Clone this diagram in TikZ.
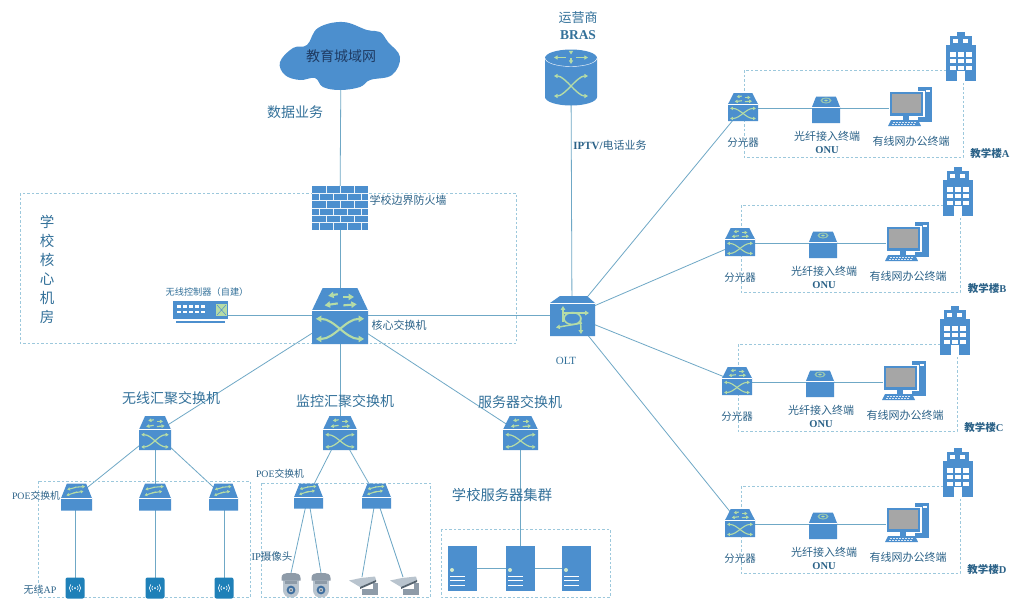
\documentclass[tikz,border=0pt]{standalone}
\usepackage{fontspec}
\setmainfont{Noto Sans CJK SC}
\newfontfamily\lat{Liberation Serif}
\usetikzlibrary{arrows.meta}
\pgfdeclarelayer{bg}
\pgfsetlayers{bg,main}
\definecolor{icb}{HTML}{4C8FCE}
\definecolor{gar}{HTML}{B6DCA6}
\definecolor{linc}{HTML}{6FA8C6}
\definecolor{zonec}{HTML}{9CC8DC}
\definecolor{labc}{HTML}{33719A}
\definecolor{labd}{HTML}{2B6288}
\definecolor{apb}{HTML}{1F80B8}
\definecolor{camcap}{HTML}{8E9BA8}
\definecolor{cambody}{HTML}{B9C4CE}
\definecolor{camlens}{HTML}{3F6FA0}
\definecolor{camdark}{HTML}{55636F}
\definecolor{cloudtext}{HTML}{1F3B63}
\tikzset{
  ic/.style={fill=icb,draw=none},
  ga/.style={draw=gar},
  tp/.style={-{Stealth[length=0pt 2.6 0,width=0pt 3 0,inset=0pt]}},
  tt/.style={{Stealth[length=0pt 2.6 0,width=0pt 3 0,inset=0pt]}-{Stealth[length=0pt 2.6 0,width=0pt 3 0,inset=0pt]}},
  conn/.style={draw=linc,line width=.8pt},
  zone/.style={draw=zonec,line width=.7pt,dash pattern=on 2.5pt off 2pt},
  anchorbox/.style={inner sep=0pt,outer sep=0pt,draw=none},
  lab/.style={inner sep=0pt,outer sep=0pt,text=labc,anchor=center},
}
\newcommand{\bx}[5]{\node[anchorbox,minimum width=#4pt,minimum height=#5pt] (#1) at (#2,#3) {};}
\newcommand{\lab}[4]{\node[lab] (t#1x#2) at (#1,#2) {\fontsize{#3}{#3}\selectfont #4};}
\newcommand{\labk}[4]{\node[lab,text=labd] (t#1x#2) at (#1,#2) {\fontsize{#3}{#3}\selectfont #4};}
% multilayer switch
\newcommand{\mlsw}[5]{\begin{scope}[shift={(#1,#2)},x=#3pt,y=-#4pt]
\fill[ic] (-1,-.2)--(-.62,-1)--(.62,-1)--(1,-.2)--(1,1)--(-1,1)--cycle;
\draw[white,line width=.4pt] (-1,-.2)--(1,-.2);
\begin{scope}[ga,line width=#5pt]
\draw[tp] (-.08,-.78)--(-.42,-.72);
\draw[tp] (.12,-.68)--(.5,-.68);
\draw[tp] (-.08,-.45)--(-.55,-.38);
\draw[tp] (.12,-.38)--(.6,-.42);
\draw[tt] (-.86,.1) .. controls (-.2,.1) and (.2,.82) .. (.86,.82);
\draw[tt] (-.86,.82) .. controls (-.2,.82) and (.2,.1) .. (.86,.1);
\end{scope}\end{scope}}
% access switch
\newcommand{\acsw}[5]{\begin{scope}[shift={(#1,#2)},x=#3pt,y=-#4pt]
\fill[ic] (-1,.1)--(-.62,-1)--(.62,-1)--(1,.1)--(1,1)--(-1,1)--cycle;
\draw[white,line width=.3pt] (-1,.1)--(1,.1);
\begin{scope}[ga,line width=#5pt]
\draw[tp] (-.1,-.72)--(.55,-.78);
\draw[tp] (-.02,-.72)--(-.6,-.55);
\draw[tp] (-.2,-.3)--(.45,-.42);
\draw[tp] (.05,-.38)--(-.65,-.12);
\end{scope}\end{scope}}
% firewall
\newcommand{\firewall}[4]{\begin{scope}[shift={(#1,#2)},x=#3pt,y=-#4pt]
\fill[ic] (-1,-1) rectangle (1,1);
\begin{scope}[white!90!icb,line width=.45pt]
\foreach \yy in {-.667,-.333,0,.333,.667} \draw (-1,\yy)--(1,\yy);
\foreach \yy/\ss in {-1/0,-.667/1,-.333/0,0/1,.333/0,.667/1}{
  \foreach \xx in {-.5,0,.5}{ \ifnum\ss=0 \draw (\xx,\yy)--(\xx,\yy+.333); \else \draw (\xx-.25,\yy)--(\xx-.25,\yy+.333); \fi}
  \ifnum\ss=1 \draw (.75,\yy)--(.75,\yy+.333);\fi
}
\end{scope}\end{scope}}
% row of a teaching building
\newcommand{\bldrow}[3]{\begin{scope}[shift={(#2,#3)}]
\bx{spl#1}{743}{108}{30}{28}
\bx{onu#1}{826}{108}{28}{27}
\bx{pc#1}{910}{108}{44}{38}
\bx{bld#1}{961}{56}{30}{49}
\draw[zone] (744,70) rectangle (963,157);
\begin{pgfonlayer}{bg}
\draw[conn] (spl#1.center)--(onu#1.center);
\draw[conn] (onu#1.center)--(pc#1.center);
\end{pgfonlayer}
\mlsw{743}{107}{15}{14}{1.1}
% ONU
\fill[ic] (812,107)--(815.5,98) .. controls (816,96.5) .. (818,96.5)--(834,96.5) .. controls (836,96.5) .. (836.5,98)--(840,107)--(840,123)--(812,123)--cycle;
\draw[white,line width=.3pt] (812,107)--(840,107);
\fill[gar!70!icb] (826,100.5) ellipse (5.5 and 3);
\fill[icb] (826,100.5) ellipse (3.6 and 1.9);
\fill[gar] (826,100.5) ellipse (1.8 and 1);
% PC
\fill[ic] (918,87) rectangle (932,122);
\fill[white] (926,89.5) rectangle (929.5,92);
\fill[white] (888.5,91) rectangle (924.5,117);
\fill[ic] (890,92) rectangle (923,115.5);
\fill[black!35] (892,94) rectangle (921,113);
\fill[ic] (903,115.5) rectangle (909,120);
\fill[ic] (891,120)--(918,120)--(921,126)--(888,126)--cycle;
\foreach \kx in {893,896,...,915}{\fill[white,opacity=.8] (\kx,121.5) rectangle +(1.8,1);\fill[white,opacity=.8] (\kx-1,123.5) rectangle +(1.8,1);}
% building
\fill[ic] (957,32) rectangle (965,37);
\fill[ic] (950,36) rectangle (972,46);
\fill[ic] (946,45) rectangle (976,81);
\fill[white] (953,38.5) rectangle (958,43);
\fill[white] (963,38.5) rectangle (968,43);
\foreach \wy in {52,58.5,65.5}{\foreach \wx in {950,957.5,966}{\fill[white] (\wx,\wy) rectangle +(6,4.5);}}
\fill[white] (957,71) rectangle (965,81);
\labk{743}{143}{10.5}{分光器}
\labk{827}{136}{11}{光纤接入终端}
\labk{827}{150}{10.5}{\lat\bfseries ONU}
\labk{911}{141}{11}{有线网办公终端}
\labk{990}{153}{10.5}{\textbf{教学楼}{\lat\bfseries #1}}
\end{scope}}
\newcommand{\apicon}[2]{\begin{scope}[shift={(#1,#2)}]
\fill[apb,rounded corners=2pt] (-9.5,-10.5) rectangle (9.5,10.5);
\fill[white] (0,0) circle (1);
\begin{scope}[white,line width=.6pt]
\foreach \rr in {3.2,5.6}{\draw (-\rr*.75,-\rr*.65) arc (221:139:\rr); \draw (\rr*.75,-\rr*.65) arc (-41:41:\rr);}
\end{scope}\end{scope}}
\newcommand{\domecam}[2]{\begin{scope}[shift={(#1,#2)}]
\fill[cambody] (-8,-6) rectangle (8,3);
\fill[cambody] (-8,3) .. controls (-8,10) and (-4,11.5) .. (0,11.5) .. controls (4,11.5) and (8,10) .. (8,3)--cycle;
\fill[camcap] (-9.5,-8) .. controls (-9.5,-12) and (-7,-13) .. (0,-13) .. controls (7,-13) and (9.5,-12) .. (9.5,-8)--(9.5,-5.5)--(-9.5,-5.5)--cycle;
\fill[camcap] (-6,-5.5) rectangle (6,-2);
\fill[camlens] (0,4) circle (4.4);
\fill[cambody] (0,4) circle (2.2);
\fill[camdark] (0,4) circle (1);
\end{scope}}
\newcommand{\bulletcam}[2]{\begin{scope}[shift={(#1,#2)}]
\fill[camcap] (10,-4) rectangle (15,5);
\fill[camcap] (-1,2) rectangle (15,8);
\fill[cambody] (-14,-6.5)--(-2,-9)--(12,-10.5)--(13,-7)--(-3,0)--(-8,-3)--cycle;
\fill[camdark] (-3,0)--(13,-7)--(13,-5)--(-3,2)--cycle;
\end{scope}}
\newcommand{\serverbox}[2]{\begin{scope}[shift={(#1,#2)}]
\fill[ic] (-14.5,-22.5) rectangle (14.5,22.5);
\fill[gar!60!white] (-10,2) circle (2);
\foreach \ly in {8,12.5,17}{\draw[white,line width=.7pt] (-12,\ly)--(3,\ly);}
\end{scope}}
\begin{document}
\begin{tikzpicture}[x=1pt,y=-1pt]
\clip (0,0) rectangle (1010,598);
\begin{pgfonlayer}{bg}
\fill[white] (0,0) rectangle (1010,598);
\end{pgfonlayer}
% cloud
\fill[ic] plot[smooth cycle,tension=.65] coordinates {(280,62) (293,48) (307,45) (318,28) (343,22) (367,30) (380,32) (388,42) (400,57) (392,75) (370,80) (360,87) (340,90) (323,87) (315,78) (300,80) (285,75)};
\node[lab,text=cloudtext] (cloud) at (341,56) {\fontsize{14}{14}\selectfont 教育城域网};
% named anchors
\bx{fw}{340}{208}{56}{44}
\bx{core}{340}{315.5}{56}{56}
\bx{ctrl}{200}{315.5}{55}{18}
\bx{olt}{572}{315.5}{45}{40}
\bx{bras}{571}{78}{52}{56}
\bx{aggw}{155}{433}{32}{34}
\bx{aggm}{340}{433}{34}{34}
\bx{aggs}{520}{433}{35}{34}
\bx{swa}{75.5}{497}{31}{27}
\bx{swb}{155}{497}{32}{27}
\bx{swc}{224}{497}{29}{27}
\bx{swd}{308}{496}{29}{25}
\bx{swe}{376}{496}{29}{25}
\bx{apa}{75.5}{588}{19}{21}
\bx{apbn}{155}{588}{19}{21}
\bx{apc}{224}{588}{19}{21}
\bx{cama}{291}{586}{20}{26}
\bx{camb}{321}{586}{20}{26}
\bx{camc}{362}{587}{28}{20}
\bx{camd}{403}{587}{28}{20}
\bx{sva}{462}{568}{29}{45}
\bx{svb}{520}{568}{29}{45}
\bx{svc}{576}{568}{29}{45}
% zones
\draw[zone] (20,193) rectangle (516,343);
\draw[zone] (38,481) rectangle (250,597);
\draw[zone] (261,483) rectangle (430,597);
\draw[zone] (441,529) rectangle (610,597);
% rows
\bldrow{A}{0}{0}
\bldrow{B}{-3}{135}
\bldrow{C}{-6}{274}
\bldrow{D}{-3}{416}
% connectors
\begin{pgfonlayer}{bg}
\draw[conn] (cloud.center)--(fw.center);
\draw[conn] (fw.center)--(core.center);
\draw[conn] (ctrl.center)--(core.center);
\draw[conn] (core.center)--(olt.center);
\draw[conn] (bras.center)--(olt.center);
\draw[conn] (olt.center)--(splA.center);
\draw[conn] (olt.center)--(splB.center);
\draw[conn] (olt.center)--(splC.center);
\draw[conn] (olt.center)--(splD.center);
\draw[conn] (core.center)--(aggw.center);
\draw[conn] (core.center)--(aggm.center);
\draw[conn] (core.center)--(aggs.center);
\draw[conn] (aggw.center)--(swa.center);
\draw[conn] (aggw.center)--(swb.center);
\draw[conn] (aggw.center)--(swc.center);
\draw[conn] (aggm.center)--(swd.center);
\draw[conn] (aggm.center)--(swe.center);
\draw[conn] (swa.center)--(apa.center);
\draw[conn] (swb.center)--(apbn.center);
\draw[conn] (swc.center)--(apc.center);
\draw[conn] (swd.center)--(cama.north);
\draw[conn] (swd.center)--(camb.north);
\draw[conn] (swe.center)--(camc.north);
\draw[conn] (swe.center)--(camd.north);
\draw[conn] (aggs.center)--(svb.center);
\draw[conn] (sva.center)--(svb.center);
\draw[conn] (svb.center)--(svc.center);
\end{pgfonlayer}
% icons
\firewall{340}{208}{28}{22}
\mlsw{340}{316}{28}{28}{2.1}
\mlsw{155}{433}{16}{17}{1.2}
\mlsw{340}{433}{17}{17}{1.2}
\mlsw{520.5}{433}{17.5}{17}{1.2}
\acsw{76.5}{497}{15.5}{13.5}{1.05}
\acsw{155}{497}{16}{13.5}{1.05}
\acsw{223.5}{497}{14.5}{13.5}{1.05}
\acsw{308.5}{496}{14.5}{12.5}{1.05}
\acsw{376.5}{496}{14.5}{12.5}{1.05}
\apicon{75}{588}\apicon{155}{588}\apicon{224}{588}
\domecam{291}{586}\domecam{321}{586}
\bulletcam{363}{587}\bulletcam{404}{587}
\serverbox{462}{568}\serverbox{520}{568}\serverbox{576}{568}
% controller
\fill[ic] (173,301) rectangle (228,319);
\fill[ic] (176,321) rectangle (225,323);
\foreach \cx in {177,183,189,195,201}{\fill[white] (\cx,305) rectangle +(4,2.6);\fill[white] (\cx,310.5) rectangle +(4,2.6);}
\fill[gar] (216,304) rectangle (227,316);
\draw[icb,line width=.5pt] (217,305)--(226,315) (226,305)--(217,315);
% BRAS
\fill[ic] (545,58) arc (180:360:26 and 8.5)--(597,97) arc (0:180:26 and 8.5)--cycle;
\draw[white,line width=.4pt] (545,58) arc (180:0:26 and 8.5);
\begin{scope}[ga,line width=1.4pt]
\draw[tp] (566,57.5)--(554,57.5);
\draw[tp] (576,57.5)--(588,57.5);
\draw[tp] (571,50.5)--(571,54.5);
\draw[tp] (571,58)--(571,64);
\draw[tt] (554,76) .. controls (565,76) and (577,96) .. (588,96);
\draw[tt] (554,96) .. controls (565,96) and (577,76) .. (588,76);
\end{scope}
% OLT
\fill[ic] (550,303)--(560,296)--(587,296)--(595,303)--(595,336)--(550,336)--cycle;
\draw[white,line width=.3pt] (550,303)--(595,303);
\begin{scope}[ga,line width=1.5pt]
\draw (572.5,318.5) ellipse (8.5 and 6);
\draw[tp] (563,322)--(563,306);
\draw[tp] (563,313)--(589,313);
\draw[tp] (582,323)--(556,327.5);
\draw[tp] (580.5,317)--(581,334);
\end{scope}
% labels
\lab{295}{112}{14}{数据业务}
\lab{578}{18}{13}{运营商}
\lab{578}{35}{13.5}{{\lat\bfseries BRAS}}
\labk{610}{145}{11}{{\lat\bfseries IPTV/}电话业务}
\labk{408}{200}{11}{学校边界防火墙}
\lab{207}{292}{9.2}{无线控制器（自建）}
\labk{399}{325}{11}{核心交换机}
\lab{47}{222}{14.5}{学}
\lab{47}{241}{14.5}{校}
\lab{47}{260}{14.5}{核}
\lab{47}{279}{14.5}{心}
\lab{47}{298}{14.5}{机}
\lab{47}{317}{14.5}{房}
\lab{566}{361}{11}{{\lat OLT}}
\lab{171}{398}{14}{无线汇聚交换机}
\lab{345}{401}{14}{监控汇聚交换机}
\lab{520}{402}{14}{服务器交换机}
\lab{502}{495}{14.3}{学校服务器集群}
\labk{36}{496}{9.8}{{\lat POE}交换机}
\labk{280}{474}{9.8}{{\lat POE}交换机}
\labk{272}{557}{10.5}{{\lat IP}摄像头}
\labk{40}{590}{10}{无线{\lat AP}}
\end{tikzpicture}
\end{document}
